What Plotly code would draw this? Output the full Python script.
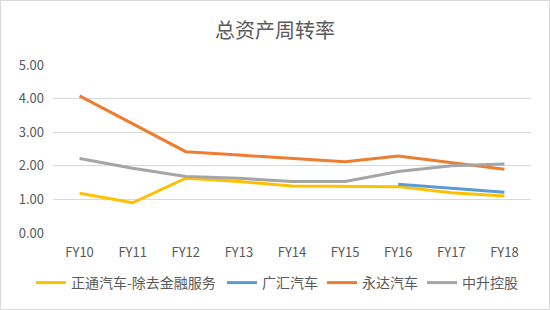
import plotly.graph_objects as go

categories = ["FY10", "FY11", "FY12", "FY13", "FY14", "FY15", "FY16", "FY17", "FY18"]
zhengtong = [1.18, 0.90, 1.63, 1.53, 1.40, 1.38, 1.38, 1.20, 1.10]
guanghui = [None, None, None, None, None, None, 1.45, 1.33, 1.21]
yongda = [4.08, 3.25, 2.42, 2.32, 2.23, 2.12, 2.29, 2.09, 1.90]
zhongsheng = [2.22, 1.93, 1.68, 1.63, 1.53, 1.53, 1.83, 2.00, 2.05]
series_names = ["正通汽车-除去金融服务", "广汇汽车", "永达汽车", "中升控股"]
y_ticks = [0, 1, 2, 3, 4, 5]
y_tick_labels = ["0.00", "1.00", "2.00", "3.00", "4.00", "5.00"]
title = "总资产周转率"

colors = ["#FFC000", "#5B9BD5", "#ED7D31", "#A5A5A5"]
font = "Noto Sans CJK SC, Noto Sans, sans-serif"

W, H = 550, 310
ml, mr, mt, mb = 53, 19, 65, 77
pw = W - ml - mr
ph = H - mt - mb

legend_ids = ["legend", "legend2", "legend3", "legend4"]
legend_x_px = [31, 222, 322, 422]

fig = go.Figure()
for name, vals, c, lid in zip(series_names, [zhengtong, guanghui, yongda, zhongsheng], colors, legend_ids):
    fig.add_trace(go.Scatter(x=categories, y=vals, name=name, mode="lines",
                             line=dict(color=c, width=3), legend=lid))

legend_layouts = {}
for lid, xp in zip(legend_ids, legend_x_px):
    legend_layouts[lid] = dict(
        orientation="h", xref="container", yref="container",
        x=xp / W, xanchor="left", y=(H - 283) / H, yanchor="middle",
        font=dict(size=14, color="#595959", family=font),
        itemwidth=30, bgcolor="rgba(0,0,0,0)")

fig.update_layout(
    width=W, height=H,
    margin=dict(l=ml, r=mr, t=mt, b=mb, autoexpand=False),
    paper_bgcolor="white", plot_bgcolor="white",
    font=dict(family=font, color="#595959", size=13),
    title=dict(text=title, x=0.5, xanchor="center", y=1 - 31 / H, yanchor="middle",
               font=dict(size=20, color="#595959", family=font)),
    showlegend=True,
    xaxis=dict(type="category", range=[-0.5, 8.5], showgrid=False, showline=False,
               ticks="", ticklabelstandoff=10,
               tickfont=dict(size=13, color="#595959"), zeroline=False),
    yaxis=dict(range=[0, 5], tickvals=y_ticks, ticktext=y_tick_labels,
               showgrid=True, gridcolor="#D9D9D9", gridwidth=1, zeroline=False,
               showline=False, ticks="", ticklabelstandoff=8,
               tickfont=dict(size=13, color="#595959")),
    shapes=[dict(type="rect", xref="paper", yref="paper",
                 x0=-(ml - 0.5) / pw, x1=(W - ml - 0.5) / pw,
                 y0=-(mb - 0.5) / ph, y1=(H - mb - 0.5) / ph,
                 line=dict(color="#D9D9D9", width=1), layer="below")],
    **legend_layouts,
)

fig.write_html("out.html")
